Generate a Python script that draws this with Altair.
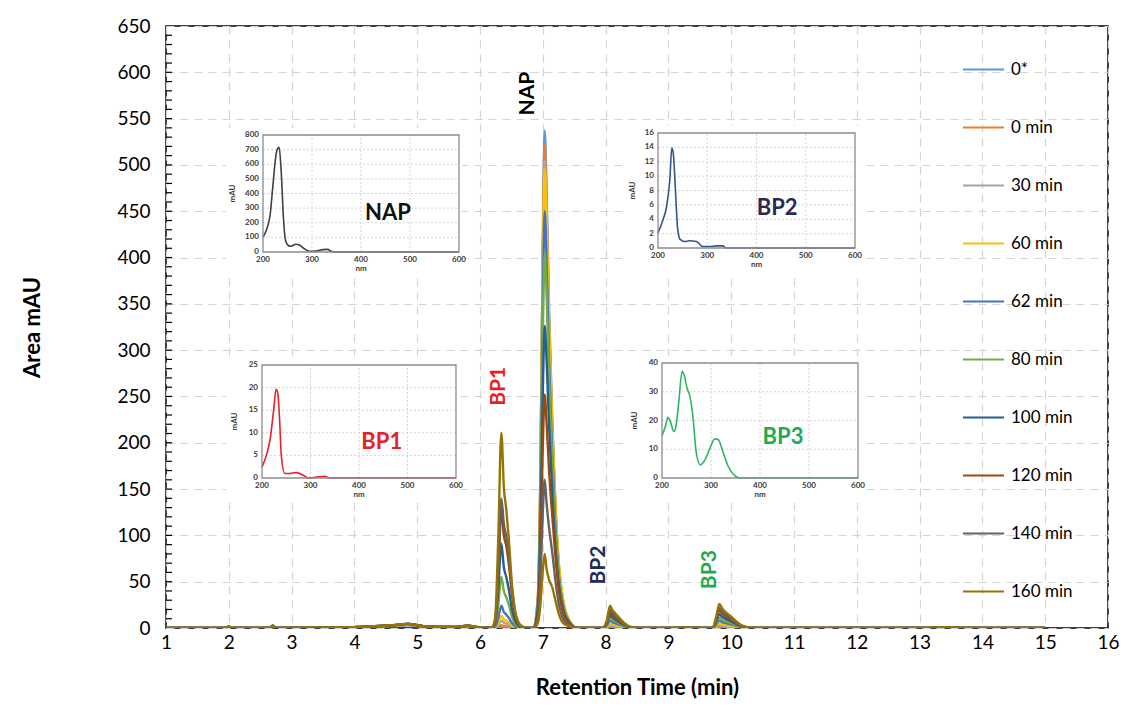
import altair as alt
import pandas as pd

FONT = "Lato"

# ---------------- main chromatogram data ----------------
TIME = [1.0, 1.95, 2.0, 2.05, 2.65, 2.7, 2.75, 3.6, 4.2, 4.6, 4.85, 5.1, 5.6, 5.8, 6.0,
        6.18, 6.24, 6.29, 6.34, 6.38, 6.42, 6.46, 6.51, 6.57, 6.65, 6.75,
        6.85, 6.92, 6.96, 7.0, 7.03, 7.06, 7.1, 7.15, 7.2, 7.26, 7.33, 7.42, 7.55,
        7.95, 8.02, 8.07, 8.11, 8.16, 8.22, 8.3, 8.4, 8.55,
        9.1, 9.3, 9.6,
        9.7, 9.76, 9.81, 9.86, 9.92, 10.0, 10.08, 10.16, 10.26, 10.4,
        11.0, 12.0, 13.0, 13.4, 13.8, 15.0]

S_0STAR = [0, 0, 1.0, 0, 0, 1.5, 0, 0.3, 1.0, 2.0, 3.0, 1.5, 0.5, 1.5, 0.3,
           0, 0, 0.4, 1.0, 0.7, 0.6, 0.4, 0.2, 0.1, 0, 0,
           0, 32, 161, 419, 537, 473, 344, 226, 134, 64, 27, 8, 0,
           0, 0.2, 0.5, 0.4, 0.3, 0.2, 0.1, 0, 0,
           0, 0.3, 0,
           0, 0.2, 0.5, 0.4, 0.3, 0.2, 0.1, 0.1, 0, 0,
           0, 0, 0, 0.6, 0, 0]
S_0MIN = [0, 0, 1.2, 0, 0, 2.0, 0, 0.4, 1.2, 2.5, 3.5, 1.8, 0.8, 2.0, 0.4,
          0, 0.2, 1.4, 3.0, 2.2, 1.8, 1.3, 0.7, 0.2, 0, 0,
          0, 31, 157, 407, 522, 459, 334, 219, 131, 63, 26, 8, 0,
          0, 0.4, 1.0, 0.8, 0.6, 0.5, 0.2, 0.1, 0,
          0, 0.3, 0,
          0, 0.5, 1.0, 0.8, 0.6, 0.5, 0.3, 0.1, 0, 0,
          0, 0, 0, 0.6, 0, 0]
S_30 = [0, 0, 1.3, 0, 0, 2.2, 0, 0.4, 1.3, 2.7, 4.0, 1.9, 0.9, 2.2, 0.4,
        0, 0.4, 3.6, 8.0, 5.8, 4.8, 3.6, 1.8, 0.6, 0.1, 0,
        0, 30, 152, 394, 505, 444, 323, 212, 126, 61, 25, 8, 0,
        0, 1.0, 3.0, 2.4, 1.9, 1.4, 0.7, 0.2, 0,
        0, 0.4, 0,
        0, 1.4, 3.0, 2.4, 1.9, 1.4, 0.8, 0.4, 0.1, 0,
        0, 0, 0, 0.7, 0, 0]
S_60 = [0, 0, 1.4, 0, 0, 2.3, 0, 0.5, 1.4, 2.8, 4.2, 2.0, 1.0, 2.3, 0.5,
        0, 0.7, 5.9, 13.0, 9.4, 7.8, 5.9, 2.9, 0.9, 0.1, 0,
        0, 30, 149, 386, 495, 440, 327, 218, 134, 67, 28, 9, 0,
        0, 1.8, 5.0, 4.0, 3.2, 2.3, 1.1, 0.3, 0,
        0, 0.4, 0,
        0, 2.3, 5.0, 4.0, 3.2, 2.4, 1.4, 0.6, 0.2, 0,
        0, 0, 0, 0.7, 0, 0]
S_62 = [0, 0, 1.4, 0, 0, 2.4, 0, 0.5, 1.4, 2.9, 4.3, 2.0, 1.0, 2.4, 0.5,
        0, 1.2, 10.8, 24.0, 17.3, 14.4, 10.8, 5.3, 1.7, 0.2, 0,
        0, 27, 135, 351, 450, 396, 288, 189, 113, 54, 23, 7, 0,
        0, 2.8, 8.0, 6.4, 5.1, 3.6, 1.8, 0.4, 0,
        0, 0.5, 0,
        0, 3.6, 8.0, 6.4, 5.1, 3.8, 2.2, 1.0, 0.2, 0,
        0, 0, 0, 0.7, 0, 0]
S_80 = [0, 0, 1.5, 0, 0, 2.4, 0, 0.5, 1.5, 2.9, 4.4, 2.0, 1.0, 2.4, 0.5,
        0, 2.8, 24.8, 55.0, 39.6, 33.0, 24.8, 12.1, 3.9, 0.6, 0,
        0, 24, 122, 316, 405, 360, 267, 178, 105, 52, 22, 7, 0,
        0, 3.9, 11.0, 8.8, 7.0, 5.0, 2.4, 0.6, 0,
        0, 0.5, 0,
        0, 5.0, 11.0, 8.8, 7.0, 5.2, 3.0, 1.3, 0.3, 0,
        0, 0, 0, 0.8, 0, 0]
S_100 = [0, 0, 1.5, 0, 0, 2.5, 0, 0.5, 1.5, 3.0, 4.5, 2.0, 1.0, 2.5, 0.5,
         0, 4.6, 41.0, 91.0, 65.5, 54.6, 41.0, 20.0, 6.4, 0.9, 0,
         0, 20, 98, 254, 326, 290, 218, 147, 88, 44, 18, 6, 0,
         0, 4.9, 14.0, 11.2, 9.0, 6.3, 3.1, 0.7, 0,
         0, 0.5, 0,
         0, 6.8, 15.0, 12.0, 9.6, 7.1, 4.1, 1.8, 0.5, 0,
         0, 0, 0, 0.8, 0, 0]
S_120 = [0, 0, 1.5, 0, 0, 2.5, 0, 0.5, 1.5, 3.0, 4.5, 2.0, 1.0, 2.5, 0.5,
         0, 6.4, 54.0, 128.0, 100.0, 88.0, 68.0, 36.0, 11.0, 1.5, 0,
         0, 15, 76, 197, 252, 222, 170, 122, 78, 38, 15, 5, 0,
         0, 6.0, 17.0, 13.6, 10.9, 7.7, 3.7, 0.9, 0,
         0, 0.5, 0,
         0, 8.6, 19.0, 15.2, 12.2, 8.9, 5.1, 2.3, 0.6, 0,
         0, 0, 0, 0.8, 0, 0]
S_140 = [0, 0, 1.5, 0, 0, 2.5, 0, 0.5, 1.5, 3.0, 4.5, 2.0, 1.0, 2.5, 0.5,
         0, 7.0, 59.0, 140.0, 112.0, 98.0, 77.0, 42.0, 14.0, 2.8, 0,
         0, 10, 48, 125, 160, 135, 108, 82, 52, 24, 9, 3, 0,
         0, 7.0, 20.0, 16.0, 12.8, 9.0, 4.4, 1.0, 0,
         0, 0.6, 0,
         0, 9.9, 22.0, 17.6, 14.1, 10.3, 5.9, 2.6, 0.7, 0,
         0, 0, 0, 0.8, 0, 0]
S_160 = [0, 0, 1.5, 0, 0, 2.5, 0, 0.5, 1.5, 3.0, 4.5, 2.0, 1.0, 2.5, 0.5,
         0, 10.6, 95.0, 211.0, 152.0, 127.0, 95.0, 46.0, 14.8, 2.1, 0,
         0, 5, 24, 62, 80, 64, 52, 44, 30, 14, 5, 2, 0,
         0, 8.4, 24.0, 19.2, 15.4, 10.8, 5.3, 1.2, 0,
         0, 0.6, 0,
         0, 11.7, 26.0, 20.8, 16.6, 12.2, 7.0, 3.1, 0.8, 0,
         0, 0, 0, 0.8, 0, 0]

SERIES = ["0*", "0 min", "30 min", "60 min", "62 min", "80 min",
          "100 min", "120 min", "140 min", "160 min"]
SERIES_VALUES = [S_0STAR, S_0MIN, S_30, S_60, S_62, S_80, S_100, S_120, S_140, S_160]
COLORS = ["#5B9BD5", "#ED7D31", "#A5A5A5", "#FFC000", "#4472C4",
          "#70AD47", "#255E91", "#9E480E", "#636363", "#997300"]

X_TICKS = list(range(1, 17))
Y_TICKS = list(range(0, 651, 50))
MINOR_TICKS = list(range(10, 650, 10))

ANNOT_TEXT = ["NAP", "BP1", "BP2", "BP3"]
ANNOT_T = [6.77, 6.30, 7.89, 9.67]
ANNOT_V = [577, 261, 68, 63]
ANNOT_COLOR = ["#000000", "#EE1C25", "#262A57", "#1FAA4F"]

# ---------------- inset spectra data ----------------
INSET_XTICKS = [200, 300, 400, 500, 600]
INSET_XGRID = [300, 400, 500]

NAP_NM = [200, 214, 220, 227, 230, 233, 237, 242, 246, 251, 257, 267, 275, 284, 294, 308, 322, 332, 339, 349, 400, 600]
NAP_MAU = [103, 240, 446, 674, 708, 716, 560, 217, 80, 46, 39, 53, 46, 23, 5, 7, 16, 18, 5, 0, 0, 0]
NAP_YT = [0, 100, 200, 300, 400, 500, 600, 700, 800]

BP2_NM = [200, 210, 217, 224, 228, 231, 235, 240, 245, 254, 264, 278, 291, 305, 318, 332, 338, 400, 600]
BP2_MAU = [2.1, 3.9, 5.6, 9.5, 13.9, 13.2, 8.6, 2.6, 1.2, 0.9, 1.0, 0.9, 0.2, 0.2, 0.3, 0.3, 0, 0, 0]
BP2_YT = [0, 2, 4, 6, 8, 10, 12, 14, 16]

BP1_NM = [200, 210, 217, 224, 229, 232, 236, 240, 247, 257, 271, 285, 295, 312, 329, 340, 400, 600]
BP1_MAU = [2.4, 5.4, 8.7, 15.0, 19.6, 19.1, 13.5, 4.7, 1.0, 1.0, 1.2, 0.6, 0, 0.2, 0.4, 0, 0, 0]
BP1_YT = [0, 5, 10, 15, 20, 25]

BP3_NM = [200, 207, 212, 217, 224, 227, 234, 241, 245, 251, 257, 263, 270, 278, 288, 298, 308, 315, 325, 335, 346, 359, 400, 600]
BP3_MAU = [14.7, 18.0, 21.1, 19.7, 16.2, 16.8, 26.0, 37.1, 36.0, 31.3, 28.4, 21.4, 8.7, 4.6, 6.4, 10.4, 13.6, 13.3, 8.7, 4.1, 1.2, 0, 0, 0]
BP3_YT = [0, 10, 20, 30, 40]

# ---------------- main chart ----------------
rows = []
for name, vals in zip(SERIES, SERIES_VALUES):
    for t, v in zip(TIME, vals):
        rows.append({"t": t, "v": v, "s": name})
df = pd.DataFrame(rows)

xs_main = alt.Scale(domain=[1, 16], nice=False, zero=False)
ys_main = alt.Scale(domain=[0, 650], nice=False)
GRID = dict(grid=True, gridColor="#d4d4d4", gridDash=[8, 6], gridWidth=1.2)

lines = alt.Chart(df).mark_line(strokeWidth=2.4, interpolate="monotone", clip=True).encode(
    x=alt.X("t:Q", scale=xs_main, title="Retention Time (min)",
            axis=alt.Axis(values=X_TICKS, format="d", labelFlush=False, ticks=False, domain=False,
                          labelFontSize=19, labelPadding=5, labelColor="black",
                          titleFontSize=22, titleFontWeight="bold", titlePadding=25,
                          titleColor="black", **GRID)),
    y=alt.Y("v:Q", scale=ys_main, title="Area mAU",
            axis=alt.Axis(values=Y_TICKS, format="d", ticks=False, domain=False,
                          labelFontSize=19, labelPadding=16, labelColor="black",
                          titleFontSize=22, titleFontWeight="bold", titlePadding=72,
                          titleColor="black", **GRID)),
    color=alt.Color("s:N", sort=SERIES, scale=alt.Scale(domain=SERIES, range=COLORS),
                    legend=alt.Legend(orient="none", legendX=796, legendY=22, title=None,
                                      symbolType="stroke", symbolSize=1681, symbolStrokeWidth=2,
                                      labelFont=FONT, labelFontSize=17, labelColor="black",
                                      labelOffset=6, rowPadding=28, padding=0)),
)

minor = alt.Chart(pd.DataFrame({"v": MINOR_TICKS})).mark_rule(color="black", strokeWidth=1.2).encode(
    y=alt.Y("v:Q", scale=ys_main, title="Area mAU"),
    x=alt.value(0), x2=alt.value(6),
)

one = alt.Data(values=[{"k": 0}])
annots = []
for lab, t, v, c in zip(ANNOT_TEXT, ANNOT_T, ANNOT_V, ANNOT_COLOR):
    annots.append(
        alt.Chart(one).mark_text(text=lab, angle=270, font=FONT, fontSize=21, fontWeight="bold",
                                 color=c, align="center", baseline="middle").encode(
            x=alt.XDatum(t, type="quantitative", scale=xs_main, title="Retention Time (min)"),
            y=alt.YDatum(v, type="quantitative", scale=ys_main, title="Area mAU"),
        )
    )

main = alt.layer(lines, minor, *annots)


def make_inset(nm, mau, ymax, yticks, xr, yr, line_color, label, label_color,
               label_pos, mau_x, bg):
    xs = alt.Scale(domain=[200, 600], range=xr, nice=False, zero=False)
    ys = alt.Scale(domain=[0, ymax], range=yr, nice=False, zero=False)

    def fx(f):
        return alt.X(f, type="quantitative", scale=xs, axis=None)

    def fy(f):
        return alt.Y(f, type="quantitative", scale=ys, axis=None)

    def dxd(d):
        return alt.XDatum(d, type="quantitative", scale=xs, axis=None)

    def dyd(d):
        return alt.YDatum(d, type="quantitative", scale=ys, axis=None)

    small = dict(font=FONT, fontSize=8, fontWeight="bold", color="#3a3a3a")
    bg_l = alt.Chart(one).mark_rect(fill="white").encode(
        x=dxd(bg[0]), x2=alt.X2Datum(bg[1]), y=dyd(bg[2]), y2=alt.Y2Datum(bg[3]))
    vgrid = alt.Chart(pd.DataFrame({"g": INSET_XGRID})).mark_rule(
        color="#cfcfcf", strokeDash=[2, 2], strokeWidth=0.9).encode(
        x=fx("g"), y=dyd(0), y2=alt.Y2Datum(ymax))
    hgrid = alt.Chart(pd.DataFrame({"g": yticks[1:-1]})).mark_rule(
        color="#cfcfcf", strokeDash=[2, 2], strokeWidth=0.9).encode(
        y=fy("g"), x=dxd(200), x2=alt.X2Datum(600))
    line = alt.Chart(pd.DataFrame({"nm": nm, "v": mau})).mark_line(
        color=line_color, strokeWidth=1.6, interpolate="monotone").encode(x=fx("nm"), y=fy("v"))
    box = alt.Chart(one).mark_rect(fillOpacity=0, stroke="#8c8c8c", strokeWidth=1.3).encode(
        x=dxd(200), x2=alt.X2Datum(600), y=dyd(0), y2=alt.Y2Datum(ymax))
    ylab = alt.Chart(pd.DataFrame({"g": yticks})).mark_text(
        align="right", baseline="middle", dx=-4, **small).encode(
        x=dxd(200), y=fy("g"), text=alt.Text("g:Q", format="d"))
    xlab = alt.Chart(pd.DataFrame({"g": INSET_XTICKS})).mark_text(
        align="center", baseline="top", dy=4, **small).encode(
        x=fx("g"), y=dyd(0), text=alt.Text("g:Q", format="d"))
    maul = alt.Chart(one).mark_text(text="mAU", angle=270, align="center", baseline="middle",
                                    **small).encode(x=dxd(mau_x), y=dyd(ymax / 2))
    nml = alt.Chart(one).mark_text(text="nm", align="center", baseline="top", dy=13,
                                   **small).encode(x=dxd(400), y=dyd(0))
    lab = alt.Chart(one).mark_text(text=label, font=FONT, fontSize=22, fontWeight="bold",
                                   color=label_color, align="center", baseline="middle").encode(
        x=dxd(label_pos[0]), y=dyd(label_pos[1]))
    return alt.layer(bg_l, vgrid, hgrid, line, box, ylab, xlab, maul, nml, lab)


nap = make_inset(NAP_NM, NAP_MAU, 800, NAP_YT, [97, 293], [226, 109], "#404040",
                 "NAP", "#111111", (455, 267), 139, (124, 606, -178, 848))
bp2 = make_inset(BP2_NM, BP2_MAU, 16, BP2_YT, [492, 689], [222, 107], "#34558A",
                 "BP2", "#262A57", (442, 5.6), 149, (127, 610, -3.6, 17))
bp1 = make_inset(BP1_NM, BP1_MAU, 25, BP1_YT, [96, 290], [452, 339], "#E8202A",
                 "BP1", "#E8202A", (447, 8.0), 144, (126, 608, -5.5, 26.5))
bp3 = make_inset(BP3_NM, BP3_MAU, 40, BP3_YT, [496, 692], [452, 337], "#2DB565",
                 "BP3", "#1FAA4F", (447, 14.3), 145, (126, 608, -8.7, 42.4))

chart = alt.layer(main, nap, bp2, bp1, bp3).resolve_scale(
    x="independent", y="independent"
).properties(
    width=942, height=602,
    padding={"left": 158, "top": 18, "right": 11, "bottom": 80},
    autosize=alt.AutoSizeParams(type="none"),
).configure_view(
    stroke="black", strokeWidth=1.5
).configure_axis(
    labelFont=FONT, titleFont=FONT
)

chart.save("out.html", embed_options={"renderer": "svg", "actions": False})
